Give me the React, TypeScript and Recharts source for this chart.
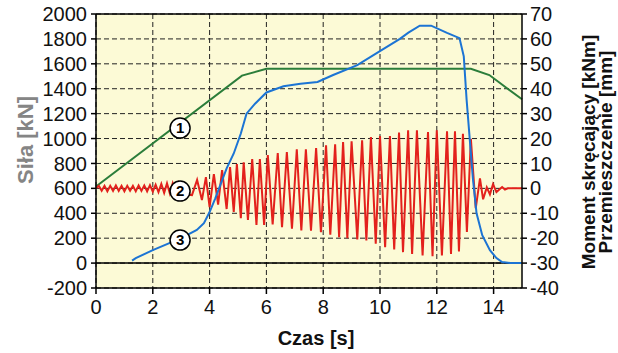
import React from 'react';
import { LineChart, Line, XAxis, YAxis, CartesianGrid, ReferenceLine, ReferenceDot } from 'recharts';

// Siła (1) – left axis [kN]
const forceTime = [0, 5.14, 6.0, 13.2, 13.85, 15];
const forceValue = [615, 1505, 1560, 1560, 1510, 1315];

// Przemieszczenie (3) – right axis [mm]
const dispTime = [1.27, 1.4, 2.0, 3.0, 3.55, 3.8, 4.0, 4.2, 4.4, 4.6, 4.85, 5.1, 5.3, 5.6, 6.0, 6.6, 7.2, 7.8, 8.35, 9.2, 9.94, 10.7, 11.0, 11.4, 11.8, 12.36, 12.8, 12.95, 13.05, 13.27, 13.4, 13.6, 13.87, 14.1, 14.3, 14.6, 15];
const dispValue = [-29, -28, -24.8, -20, -16.7, -14, -9.5, -4, 2, 8, 14, 22, 30, 34, 38.5, 41, 42, 42.7, 45.5, 49.5, 54.7, 60, 62.5, 65.3, 65.3, 62.4, 60.3, 53, 35.5, 4, -10, -18.8, -24.8, -28, -29.6, -30, -30];

// Moment skręcający (2) – right axis [kNm]
const momentTime = [
  0, 0.1, 0.2, 0.3, 0.4, 0.5, 0.6, 0.7, 0.8, 0.9, 1.0, 1.1, 1.2, 1.3, 1.4, 1.5, 1.6,
  1.7, 1.8, 1.9, 2.0, 2.1, 2.2, 2.3, 2.4, 2.5, 2.6, 2.7, 2.8, 2.9, 3.0, 3.1, 3.2,
  3.38, 3.56, 3.73, 3.87, 4.0, 4.15, 4.3, 4.44, 4.6, 4.72, 4.85, 4.96, 5.1, 5.2, 5.35,
  5.5, 5.65, 5.77, 5.92, 6.05, 6.22, 6.4, 6.55, 6.72, 6.9, 7.07, 7.23, 7.39, 7.57,
  7.75, 7.92, 8.1, 8.25, 8.42, 8.56, 8.7, 8.85, 9.0, 9.2, 9.37, 9.52, 9.68, 9.85,
  10.0, 10.18, 10.35, 10.5, 10.67, 10.81, 10.99, 11.13, 11.3, 11.5, 11.69, 11.85,
  12.0, 12.18, 12.36, 12.5, 12.64, 12.78, 12.92, 13.06, 13.2, 13.37, 13.52, 13.63,
  13.76, 13.87, 13.98, 14.1, 14.3, 14.4, 14.5, 15,
];
const momentValue = [
  0, 1, -1, 1, -1.2, 1, -1, 1.2, -1, 1, -1.2, 1, -1, 1, -1.2, 1.2, -1,
  1.2, -1.2, 1.3, -1.3, 1.5, -1.5, 1.8, -1.8, 2, -2, 2, -2, 2, -2.2, 2.2, -2.5,
  -2.7, 3.4, -4.7, 4.5, -7.5, 5.7, -6.5, 7.3, -8.3, 8.5, -9.5, 9.8, -12, 10.5, -12.7,
  11.8, -14.7, 11.8, -14.7, 13.4, -14.5, 14.2, -15.6, 14.6, -16.2, 15.7, -16.9, 15.7, -17,
  16.2, -17.6, 17.3, -18.6, 17.7, -19.6, 18.6, -20, 18.9, -20.5, 19.3, -20.9, 20.6, -22.2,
  21, -23.6, 21, -24.5, 22.4, -25.6, 23.3, -26.3, 23.3, -26.9, 22.6, -27.2,
  23.3, -26.9, 22.9, -26.3, 22.9, -25.3, 21.9, -17.5, 19.9, -8, 4, -4.4,
  0.4, -2.4, 1.7, -1.5, 0.5, -0.5, 0, 0,
];

const xTicks = [0, 2, 4, 6, 8, 10, 12, 14];
const leftTicks = [-200, 0, 200, 400, 600, 800, 1000, 1200, 1400, 1600, 1800, 2000];
const rightTicks = [-40, -30, -20, -10, 0, 10, 20, 30, 40, 50, 60, 70];

const forceData = forceTime.map((t, i) => ({ t, v: forceValue[i] }));
const dispData = dispTime.map((t, i) => ({ t, v: dispValue[i] }));
const momentData = momentTime.map((t, i) => ({ t, v: momentValue[i] }));

const FONT = '"Liberation Sans", Arial, sans-serif';
const tickStyle = { fill: '#111', fontSize: 20, fontFamily: FONT };
const circleLabel = (n: string) => ({ value: n, position: 'center' as const, fill: '#000', fontSize: 15, fontWeight: 700, fontFamily: FONT });

export default function App() {
  return (
    <div style={{ position: 'absolute', left: 0, top: 0, width: 618, height: 353, background: '#fff', fontFamily: FONT }}>
      <LineChart width={618} height={353} margin={{ top: 14, right: 36, bottom: 25, left: 36 }}>
        <CartesianGrid fill="#fcfad6" stroke="#222" strokeDasharray="5 3" horizontalValues={leftTicks} verticalValues={xTicks} yAxisId="left" />
        <XAxis type="number" dataKey="t" domain={[0, 15]} ticks={xTicks} interval={0} height={40}
          tick={tickStyle} tickSize={6} tickMargin={6} stroke="#000" strokeWidth={1.5} />
        <YAxis yAxisId="left" domain={[-200, 2000]} ticks={leftTicks} interval={0} width={60} tick={tickStyle}
          tickSize={5} tickMargin={4} stroke="#000" strokeWidth={1.5} allowDataOverflow />
        <YAxis yAxisId="right" orientation="right" domain={[-40, 70]} ticks={rightTicks} interval={0} width={60} tick={tickStyle}
          tickSize={5} tickMargin={3} stroke="#000" strokeWidth={1.5} allowDataOverflow />
        <ReferenceLine yAxisId="left" y={0} stroke="#000" strokeWidth={1.5} />
        <ReferenceLine yAxisId="left" y={2000} stroke="#000" strokeWidth={1.5} />
        <Line yAxisId="left" data={forceData} dataKey="v" type="linear" stroke="#2b7d3a" strokeWidth={2} dot={false} isAnimationActive={false} />
        <Line yAxisId="right" data={momentData} dataKey="v" type="linear" stroke="#e3211c" strokeWidth={2} dot={false} isAnimationActive={false} />
        <Line yAxisId="right" data={dispData} dataKey="v" type="linear" stroke="#1c74d4" strokeWidth={2} dot={false} isAnimationActive={false} />
        <ReferenceDot yAxisId="left" x={2.96} y={1084} r={10} fill="#fff" stroke="#000" strokeWidth={1.5} label={circleLabel('1')} />
        <ReferenceDot yAxisId="left" x={2.96} y={578} r={10} fill="#fff" stroke="#000" strokeWidth={1.5} label={circleLabel('2')} />
        <ReferenceDot yAxisId="left" x={2.96} y={185} r={10} fill="#fff" stroke="#000" strokeWidth={1.5} label={circleLabel('3')} />
      </LineChart>
      <svg width={618} height={353} style={{ position: 'absolute', left: 0, top: 0, pointerEvents: 'none' }}>
        <text x={316} y={345} textAnchor="middle" fontSize={20} fontWeight={700} fill="#111" fontFamily={FONT}>Czas [s]</text>
        <text transform="translate(33,140) rotate(-90)" textAnchor="middle" fontSize={22} fontWeight={700} fill="#858585" fontFamily={FONT}>Siła [kN]</text>
        <text transform="translate(595,152) rotate(-90)" textAnchor="middle" fontSize={19} fontWeight={700} fill="#111" fontFamily={FONT}>Moment skręcający [kNm]</text>
        <text transform="translate(612,152) rotate(-90)" textAnchor="middle" fontSize={19} fontWeight={700} fill="#111" fontFamily={FONT}>Przemieszczenie [mm]</text>
      </svg>
    </div>
  );
}
